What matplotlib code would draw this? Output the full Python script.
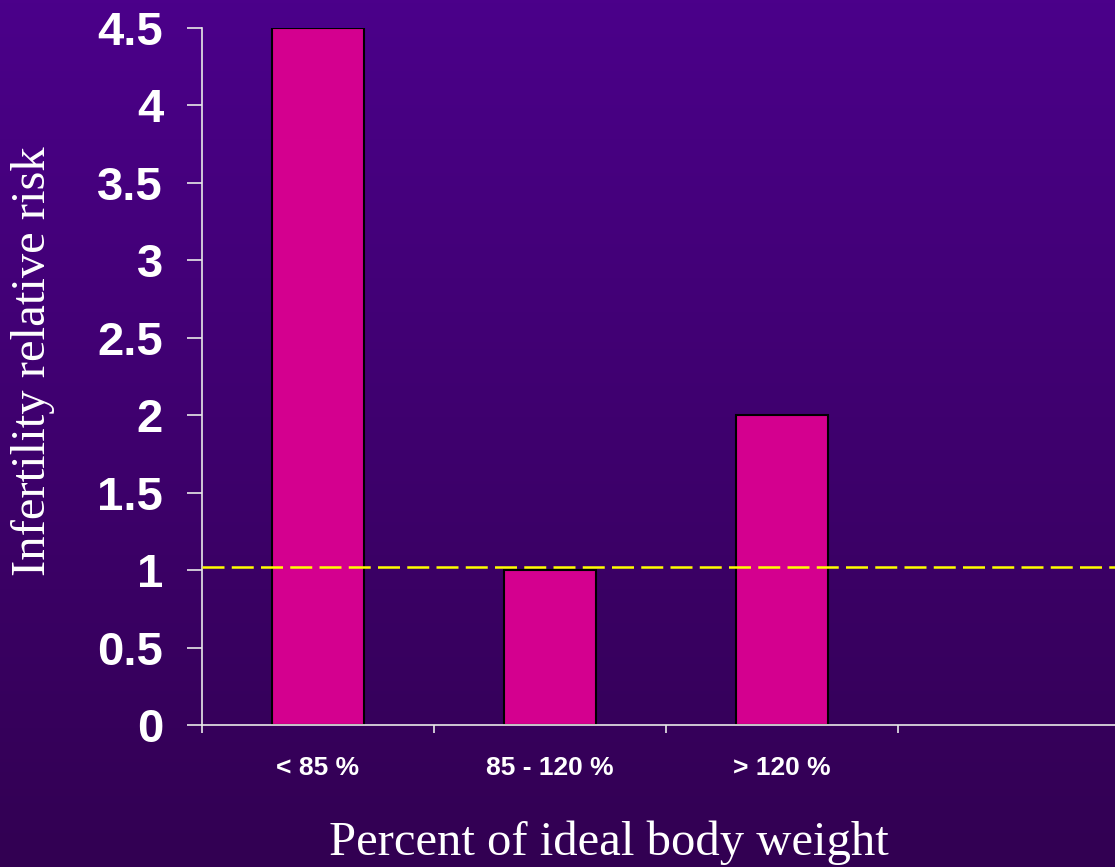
import numpy as np
import matplotlib
matplotlib.use('Agg')
import matplotlib.pyplot as plt

categories = ['< 85 %', '85 - 120 %', '> 120 %']
risk = [4.5, 1.0, 2.0]
ref_level = 1.02
yticks = [0, 0.5, 1, 1.5, 2, 2.5, 3, 3.5, 4, 4.5]
ytick_labels = ['0', '0.5', '1', '1.5', '2', '2.5', '3', '3.5', '4', '4.5']

fig = plt.figure(figsize=(11.15, 8.67), dpi=100)

# purple gradient background
bg = fig.add_axes([0, 0, 1, 1], zorder=-10)
top = np.array([75, 0, 138]) / 255.0
bottom = np.array([50, 0, 82]) / 255.0
t = np.linspace(0, 1, 256)[:, None]
grad = (top[None, :] * (1 - t) + bottom[None, :] * t)[:, None, :]
bg.imshow(grad, aspect='auto', extent=[0, 1, 0, 1])
bg.axis('off')

ax = fig.add_axes([202/1115, 1 - 725/867, 1 - 202/1115, (725 - 28)/867])
ax.patch.set_alpha(0)

x = np.arange(len(categories))
ax.bar(x, risk, width=0.40, color='#D4008F', edgecolor='black', linewidth=1.5, zorder=2)
ax.axhline(ref_level, color='#FFFF00', lw=1.8, dashes=(8.8, 2.9), zorder=3)

ax.set_xlim(-0.5, -0.5 + 913/232)
ax.set_ylim(0, 4.5)

ax.set_xticks(np.arange(len(categories) + 1) - 0.5)
ax.set_xticklabels([])
ax.set_xticks(x, minor=True)
ax.set_xticklabels(categories, minor=True, color='white', fontsize=19,
                   fontweight='bold', family='Liberation Sans')
ax.tick_params(axis='x', which='minor', length=0, pad=22)
ax.tick_params(axis='x', which='major', direction='out', length=6,
               width=1.2, color='#E8E8E8')

ax.set_yticks(yticks)
ax.set_yticklabels(ytick_labels, color='white', fontsize=34,
                   fontweight='bold', family='Liberation Sans')
ax.tick_params(axis='y', direction='out', length=11, width=1.2,
               color='#E8E8E8', pad=17)

for s in ['top', 'right']:
    ax.spines[s].set_visible(False)
for s in ['left', 'bottom']:
    ax.spines[s].set_color('#E8E8E8')
    ax.spines[s].set_linewidth(1.2)

fig.text(609/1115, 1 - 843/867, 'Percent of ideal body weight', color='white',
         fontsize=35, family='Liberation Serif', ha='center', va='center')
fig.text(33/1115, 1 - 361/867, 'Infertility relative risk', color='white',
         fontsize=35, family='Liberation Serif', ha='center', va='center',
         rotation=90)

fig.savefig('out.png', dpi=100)
